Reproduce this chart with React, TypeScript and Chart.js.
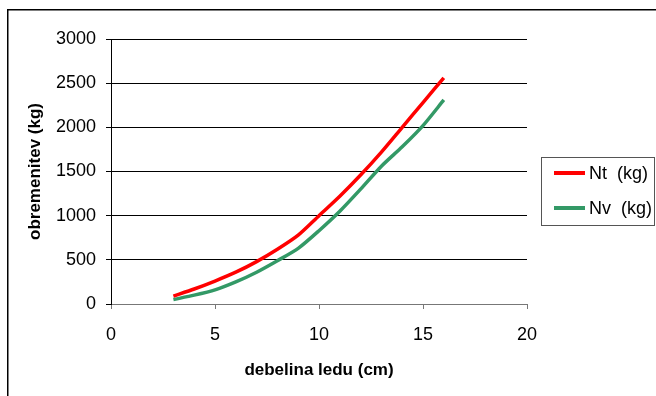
import React, { useEffect, useRef } from "react";
import { Chart, registerables } from "chart.js";

Chart.register(...registerables);

const thickness = [3, 4, 5, 6, 7, 8, 9, 10, 11, 12, 13, 14, 15, 16];
const ntValues = [90, 170, 260, 360, 480, 620, 780, 1000, 1220, 1460, 1720, 2000, 2280, 2560];
const nvValues = [50, 100, 160, 250, 360, 490, 630, 830, 1050, 1300, 1560, 1780, 2020, 2310];
const seriesNames = ["Nt  (kg)", "Nv  (kg)"];
const seriesColors = ["#FF0000", "#339966"];
const xTitle = "debelina ledu (cm)";
const yTitle = "obremenitev (kg)";

const FONT = '"Liberation Sans", Arial, sans-serif';

const decorPlugin = {
  id: "decor",
  afterDraw(chart: any) {
    const ctx = chart.ctx;
    const area = chart.chartArea;
    ctx.save();
    ctx.strokeStyle = "#000";
    ctx.lineWidth = 1.5;
    ctx.strokeRect(7.75, 9.75, 700, 500);
    ctx.fillStyle = "#000";
    ctx.font = `bold 17px ${FONT}`;
    ctx.textAlign = "center";
    ctx.textBaseline = "middle";
    ctx.fillText(xTitle, (area.left + area.right) / 2, 370);
    ctx.save();
    ctx.translate(35, (area.top + area.bottom) / 2);
    ctx.rotate(-Math.PI / 2);
    ctx.fillText(yTitle, 0, 0);
    ctx.restore();
    ctx.strokeStyle = "#555";
    ctx.lineWidth = 1;
    ctx.strokeRect(541.5, 157.5, 113, 68);
    ctx.font = `18px ${FONT}`;
    ctx.textAlign = "left";
    const ys = [173, 208];
    seriesNames.forEach((name, i) => {
      ctx.strokeStyle = seriesColors[i];
      ctx.lineWidth = 4;
      ctx.beginPath();
      ctx.moveTo(554, ys[i]);
      ctx.lineTo(585, ys[i]);
      ctx.stroke();
      ctx.fillStyle = "#000";
      ctx.fillText(name, 589, ys[i] + 1);
    });
    ctx.restore();
  },
};

export default function App() {
  const ref = useRef<HTMLCanvasElement | null>(null);
  useEffect(() => {
    if (!ref.current) return;
    const chart = new Chart(ref.current, {
      type: "line",
      data: {
        datasets: [
          {
            label: seriesNames[0],
            data: thickness.map((x, i) => ({ x, y: ntValues[i] })),
            borderColor: seriesColors[0],
            borderWidth: 3.5,
            pointRadius: 0,
            tension: 0.25,
            fill: false,
          },
          {
            label: seriesNames[1],
            data: thickness.map((x, i) => ({ x, y: nvValues[i] })),
            borderColor: seriesColors[1],
            borderWidth: 3.5,
            pointRadius: 0,
            tension: 0.25,
            fill: false,
          },
        ],
      },
      options: {
        responsive: false,
        animation: false,
        layout: { padding: { top: 39, right: 129, bottom: 0, left: 0 } },
        plugins: { legend: { display: false }, tooltip: { enabled: false } },
        scales: {
          x: {
            type: "linear",
            min: 0,
            max: 20,
            ticks: {
              stepSize: 5,
              color: "#000",
              font: { size: 18, family: FONT },
              padding: 15,
              callback: (v: any) => String(v),
            },
            grid: { drawOnChartArea: false, drawTicks: true, tickLength: 5, color: "#777" },
            border: { color: "#777", width: 1 },
            afterFit: (s: any) => {
              s.height = 92;
            },
          },
          y: {
            min: 0,
            max: 3000,
            ticks: {
              stepSize: 500,
              color: "#000",
              font: { size: 18, family: FONT },
              padding: 10,
              callback: (v: any) => String(v),
            },
            grid: { color: "#000", tickLength: 5, lineWidth: 1 },
            border: { color: "#000", width: 1 },
            afterFit: (s: any) => {
              s.width = 111;
            },
          },
        },
      },
      plugins: [decorPlugin],
    });
    return () => chart.destroy();
  }, []);
  return (
    <div style={{ position: "fixed", left: 0, top: 0, width: 656, height: 396, background: "#fff" }}>
      <canvas ref={ref} width={656} height={396} />
    </div>
  );
}
